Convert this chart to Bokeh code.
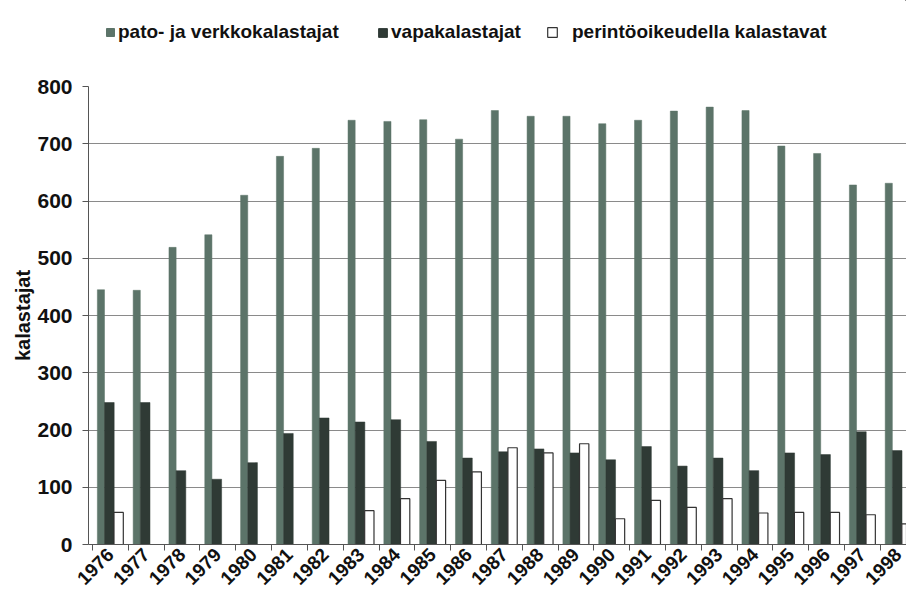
from bokeh.plotting import figure
from bokeh.layouts import column
from bokeh.models import (ColumnDataSource, FixedTicker, Legend, LegendItem, Range1d)
from bokeh.embed import file_html
from bokeh.resources import INLINE

years = [1976, 1977, 1978, 1979, 1980, 1981, 1982, 1983, 1984, 1985, 1986, 1987,
         1988, 1989, 1990, 1991, 1992, 1993, 1994, 1995, 1996, 1997, 1998]
pato = [445, 444, 519, 541, 610, 678, 692, 741, 739, 742, 708, 758,
        748, 748, 735, 741, 757, 764, 758, 696, 683, 628, 631]
vapa = [248, 248, 129, 114, 143, 194, 221, 214, 218, 180, 151, 162,
        167, 160, 148, 171, 137, 151, 129, 160, 157, 197, 164]
perinto = [56, 0, 0, 0, 0, 0, 0, 59, 80, 112, 127, 169,
           160, 176, 45, 77, 65, 80, 55, 56, 56, 52, 36]
y_ticks = [0, 100, 200, 300, 400, 500, 600, 700, 800]
series_names = ["pato- ja verkkokalastajat", "vapakalastajat", "perintöoikeudella kalastavat"]

GREEN = "#5c7469"
DARK = "#2f3a35"
WHITE_LINE = "#333333"

idx = list(range(len(years)))
src = ColumnDataSource(dict(
    x1=[i + 0.235 for i in idx],
    x2=[i + 0.47 for i in idx],
    x3=[i + 0.73 for i in idx],
    pato=pato, vapa=vapa, perinto=perinto,
))

# ---- header band holding the legend (its frame is aligned with the chart frame) ----
hdr = figure(width=906, height=50, output_backend="svg", toolbar_location=None,
             x_range=Range1d(-1000, -999), y_range=Range1d(-1000, -999),
             x_axis_location=None, y_axis_location=None,
             min_border_top=0, min_border_left=0, min_border_right=0, min_border_bottom=0)
hdr.outline_line_color = None
hdr.xgrid.grid_line_color = None
hdr.ygrid.grid_line_color = None
# same series, but outside the header's visible range: only their legend swatches show
h1 = hdr.vbar(x="x1", top="pato", width=0.2, source=src, fill_color=GREEN, line_color=GREEN)
h2 = hdr.vbar(x="x2", top="vapa", width=0.27, source=src, fill_color=DARK, line_color=DARK)
h3 = hdr.vbar(x="x3", top="perinto", width=0.26, source=src, fill_color="white",
              line_color=WHITE_LINE, line_width=1.2)

def make_legend(name, rend, loc, standoff, gsize):
    lg = Legend(items=[LegendItem(label=name, renderers=[rend])], location=loc,
                orientation="horizontal", border_line_color=None,
                background_fill_alpha=0, padding=0, margin=0, spacing=0,
                glyph_width=gsize, glyph_height=gsize, label_standoff=standoff,
                label_text_font="Liberation Sans", label_text_font_size="19px",
                label_text_font_style="bold", label_text_color="#111111",
                label_height=20)
    hdr.add_layout(lg, "center")

make_legend(series_names[0], h1, (17, 7), 3, 10)
make_legend(series_names[1], h2, (289, 7), 3, 11)
make_legend(series_names[2], h3, (458, 7), 14, 12)

# ---- main chart ----
p = figure(width=906, height=543, output_backend="svg", toolbar_location=None,
           x_range=Range1d(-0.112, 22.73), y_range=Range1d(0, 800),
           min_border_top=36, min_border_left=88, min_border_right=0, min_border_bottom=0)
p.outline_line_color = None
p.background_fill_color = "white"
p.border_fill_color = "white"

r1 = p.vbar(x="x1", top="pato", width=0.2, bottom=0, source=src,
            fill_color=GREEN, line_color=GREEN, line_width=0.5)
r2 = p.vbar(x="x2", top="vapa", width=0.27, bottom=0, source=src,
            fill_color=DARK, line_color=DARK, line_width=0.5)
r3 = p.vbar(x="x3", top="perinto", width=0.26, bottom=0, source=src,
            fill_color="white", line_color=WHITE_LINE, line_width=1.2)

p.xaxis.ticker = FixedTicker(ticks=[i + 0.5 for i in idx], minor_ticks=list(range(len(years) + 1)))
p.xaxis.major_label_overrides = {i + 0.5: str(y) for i, y in zip(idx, years)}
p.xaxis.major_label_orientation = 0.785
p.xaxis.major_tick_out = 0
p.xaxis.major_tick_in = 0
p.xaxis.minor_tick_out = 6
p.xaxis.minor_tick_in = 0
p.xaxis.major_label_standoff = 1
p.xaxis.major_label_text_font = "Liberation Sans"
p.xaxis.major_label_text_font_size = "19px"
p.xaxis.major_label_text_font_style = "bold"
p.xaxis.major_label_text_color = "#111111"
p.xaxis.axis_line_color = "#555555"
p.xaxis.minor_tick_line_color = "#555555"

p.yaxis.ticker = FixedTicker(ticks=y_ticks)
p.yaxis.minor_tick_line_color = None
p.yaxis.major_tick_out = 6
p.yaxis.major_tick_in = 0
p.yaxis.major_label_standoff = 10
p.yaxis.major_label_text_font = "Liberation Sans"
p.yaxis.major_label_text_font_size = "21px"
p.yaxis.major_label_text_font_style = "bold"
p.yaxis.major_label_text_color = "#111111"
p.yaxis.axis_line_color = "#555555"
p.yaxis.major_tick_line_color = "#555555"
p.yaxis.axis_label = "kalastajat"
p.yaxis.axis_label_text_font = "Liberation Sans"
p.yaxis.axis_label_text_font_size = "20px"
p.yaxis.axis_label_text_font_style = "bold"
p.yaxis.axis_label_text_color = "#111111"
p.yaxis.axis_label_standoff = 0

p.xgrid.grid_line_color = None
p.ygrid.grid_line_color = "#8a8a8a"
p.ygrid.grid_line_width = 1

page = column(hdr, p, spacing=0)
open("out.html", "w").write(file_html(page, INLINE))
